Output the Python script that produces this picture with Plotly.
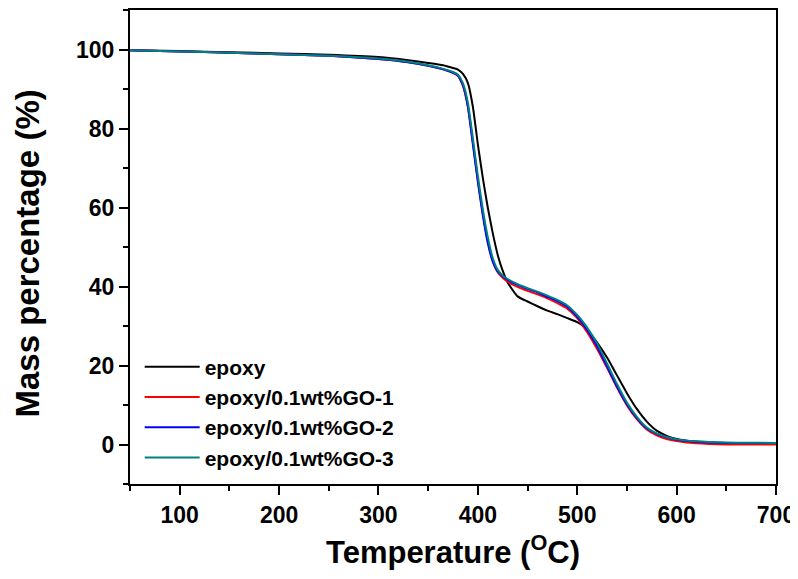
import plotly.graph_objects as go

# temperature grid (deg C) shared by all four TGA curves
temp = [50, 100, 150, 200, 250, 300, 330, 350, 365, 375, 380, 385, 390, 395, 400,
        405, 410, 415, 420, 425, 430, 440, 450, 460, 470, 480, 490, 500, 505, 510,
        520, 530, 540, 550, 560, 570, 580, 590, 600, 620, 650, 700]

epoxy = [99.8, 99.6, 99.3, 99.0, 98.7, 98.1, 97.3, 96.6, 96.0, 95.3, 94.9, 93.8, 91.5, 85.5, 76.0,
         67.5, 60.0, 53.5, 48.0, 44.0, 41.0, 37.5, 36.2, 35.0, 33.9, 33.0, 32.0, 31.0, 30.2, 29.0,
         25.8, 22.0, 17.5, 13.0, 9.0, 5.8, 3.5, 2.2, 1.4, 0.7, 0.4, 0.3]

go1 = [99.8, 99.5, 99.2, 98.8, 98.4, 97.6, 96.8, 95.9, 95.0, 94.1, 93.3, 90.8, 85.5, 76.5, 67.0,
       58.5, 51.5, 46.5, 43.6, 42.2, 41.2, 39.9, 38.9, 38.0, 37.0, 35.8, 34.4, 32.0, 30.3, 28.4,
       24.2, 19.4, 14.4, 9.9, 6.4, 3.8, 2.3, 1.4, 0.9, 0.3, 0.0, 0.0]

go2 = [99.8, 99.5, 99.2, 98.8, 98.4, 97.6, 96.8, 95.9, 95.0, 94.1, 93.4, 91.0, 85.5, 76.0, 66.5,
       58.0, 51.0, 46.3, 43.8, 42.6, 41.7, 40.4, 39.4, 38.5, 37.4, 36.3, 34.9, 32.4, 30.8, 29.0,
       24.9, 19.8, 14.7, 10.2, 6.7, 4.1, 2.7, 1.8, 1.2, 0.7, 0.4, 0.4]

go3 = [99.8, 99.5, 99.2, 98.8, 98.4, 97.7, 96.9, 96.0, 95.1, 94.3, 93.6, 91.5, 86.5, 77.5, 68.0,
       59.5, 52.5, 47.2, 44.2, 42.8, 41.9, 40.6, 39.6, 38.7, 37.7, 36.6, 35.2, 32.8, 31.3, 29.6,
       25.6, 20.5, 15.3, 10.6, 7.0, 4.3, 2.8, 1.9, 1.3, 0.8, 0.5, 0.4]

names = ["epoxy", "epoxy/0.1wt%GO-1", "epoxy/0.1wt%GO-2", "epoxy/0.1wt%GO-3"]
colors = ["#000000", "#ff0000", "#0000ff", "#008080"]

FONT = "Liberation Sans, Arial, sans-serif"

fig = go.Figure()
for name, vals, col in zip(names, [epoxy, go1, go2, go3], colors):
    fig.add_trace(go.Scatter(x=temp, y=vals, name=name, mode="lines",
                             line=dict(color=col, width=2, shape="spline", smoothing=0.5)))

axis_style = dict(showline=True, linecolor="black", linewidth=2, mirror=True,
                  showgrid=False, zeroline=False, ticks="outside", ticklen=9,
                  tickwidth=2, tickcolor="black",
                  tickfont=dict(family=FONT, size=23, color="black", weight="bold"))

fig.update_xaxes(range=[50, 700], dtick=100, tick0=0,
                 minor=dict(dtick=50, ticks="outside", ticklen=5, tickwidth=2, tickcolor="black"),
                 **axis_style)
fig.update_yaxes(range=[-10, 110], tickvals=[0, 20, 40, 60, 80, 100],
                 minor=dict(dtick=10, tick0=0, ticks="outside", ticklen=5, tickwidth=2, tickcolor="black"),
                 **axis_style)

# axis titles as annotations so they sit where the original has them
fig.add_annotation(text="Mass percentage (%)", textangle=-90, xref="paper", yref="paper",
                   x=-0.158, y=0.486, xanchor="center", yanchor="middle", showarrow=False,
                   font=dict(family=FONT, size=33, color="black", weight="bold"))
fig.add_annotation(text="Temperature (<sup>O</sup>C)", xref="paper", yref="paper",
                   x=0.5, y=-0.14, xanchor="center", yanchor="middle", showarrow=False,
                   font=dict(family=FONT, size=31, color="black", weight="bold"))

# the page body adds an 8px offset, so margins are shifted to compensate
fig.update_layout(
    width=798, height=579,
    margin=dict(l=122, r=30, t=0, b=103),
    plot_bgcolor="white", paper_bgcolor="white",
    showlegend=True,
    legend=dict(x=0.015, y=0.29, xanchor="left", yanchor="top",
                bgcolor="rgba(0,0,0,0)", borderwidth=0, tracegroupgap=0,
                itemwidth=55,
                font=dict(family=FONT, size=21, color="black", weight="bold")),
)

fig.write_html("out.html")
